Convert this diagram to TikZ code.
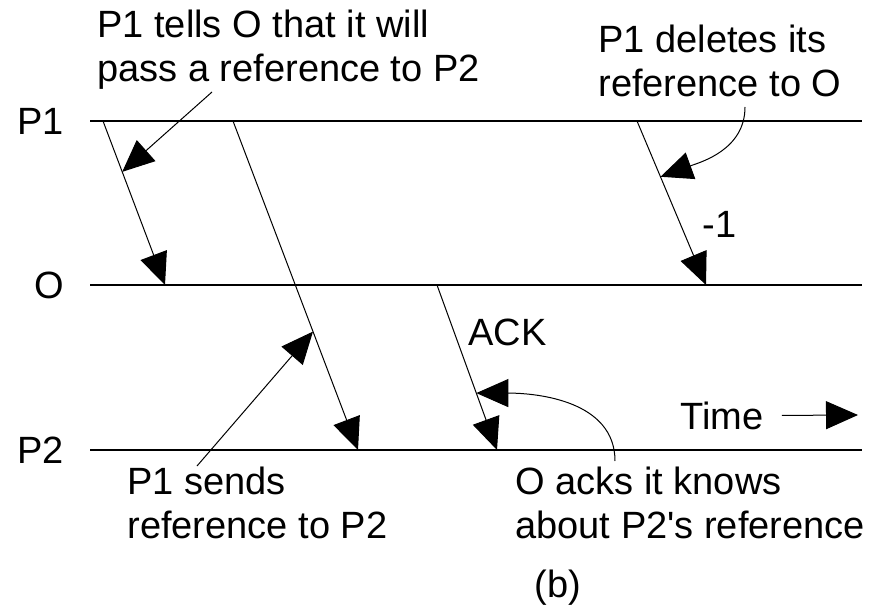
\documentclass[tikz,border=0pt]{standalone}
\usepackage{fontspec}
\setmainfont{Liberation Sans}
\usetikzlibrary{arrows.meta, positioning}

\begin{document}
\begin{tikzpicture}[x=0.5pt, y=-0.5pt, node distance=13pt, auto]
    \tikzstyle{timeline} = [draw, line width=0.7pt]
    \tikzstyle{line} = [draw, line width=0.5pt, -{Triangle[length=16pt, width=14pt]}]
    \tikzstyle{lbl} = [inner sep=0pt, font=\fontsize{19}{22}\selectfont]
    \tikzstyle{note} = [lbl, align=left, anchor=base west]

    \useasboundingbox (0,0) rectangle (883,615);

    % the three process lines
    \coordinate (p1s) at (90,121);  \coordinate (p1e) at (862,121);
    \coordinate (os)  at (90,285);  \coordinate (oe)  at (862,285);
    \coordinate (p2s) at (90,450);  \coordinate (p2e) at (862,450);
    \draw [timeline] (p1s) -- (p1e);
    \draw [timeline] (os) -- (oe);
    \draw [timeline] (p2s) -- (p2e);
    \node [lbl, left=of p1s] (p1) {P1};
    \node [lbl, left=of os] (o) {O};
    \node [lbl, left=of p2s] (p2) {P2};

    % messages
    \coordinate (m1a) at (103,121); \coordinate (m1b) at (165,285);
    \coordinate (m2a) at (233,121); \coordinate (m2b) at (358,450);
    \coordinate (m3a) at (437,285); \coordinate (m3b) at (497,450);
    \coordinate (m4a) at (637,121); \coordinate (m4b) at (706,285);
    \draw [line] (m1a) -- coordinate[pos=0.31] (m1n) (m1b);
    \draw [line] (m2a) -- coordinate[pos=0.64] (m2n) (m2b);
    \draw [line] (m3a) -- coordinate[pos=0.655] (m3n) (m3b);
    \draw [line] (m4a) -- coordinate[pos=0.34] (m4n) (m4b);
    \node [lbl, anchor=base west] (ack) at (468,345) {ACK};
    \node [lbl, anchor=base west] (minus) at (702,237) {-1};

    % notes (base = last line)
    \node [note] (tells) at (97,82) {P1 tells O that it will\\pass a reference to P2};
    \node [note] (deletes) at (598,97) {P1 deletes its\\reference to O};
    \node [note] (sends) at (127,538) {P1 sends\\reference to P2};
    \node [note] (acks) at (515,538) {O acks it knows\\about P2\textquotesingle s reference};
    \coordinate (n1) at (212,92);
    \coordinate (n2) at (745,107);
    \coordinate (n3) at (197,466);
    \coordinate (n4) at (615,461);
    \draw [line] (n1) -- (m1n);
    \draw [line] (n2) to[out=-90, in=20] (m4n);
    \draw [line] (n3) -- (m2n);
    \draw [line] (n4) to[out=90, in=0] (m3n);

    % time direction
    \node [lbl, anchor=base west] (time) at (680,429) {Time};
    \coordinate (tend) at (858,415);
    \draw [line] ([xshift=9pt]time.east) -- (tend);

    \node [lbl, anchor=base west] (cap) at (534,597) {(b)};
\end{tikzpicture}
\end{document}
